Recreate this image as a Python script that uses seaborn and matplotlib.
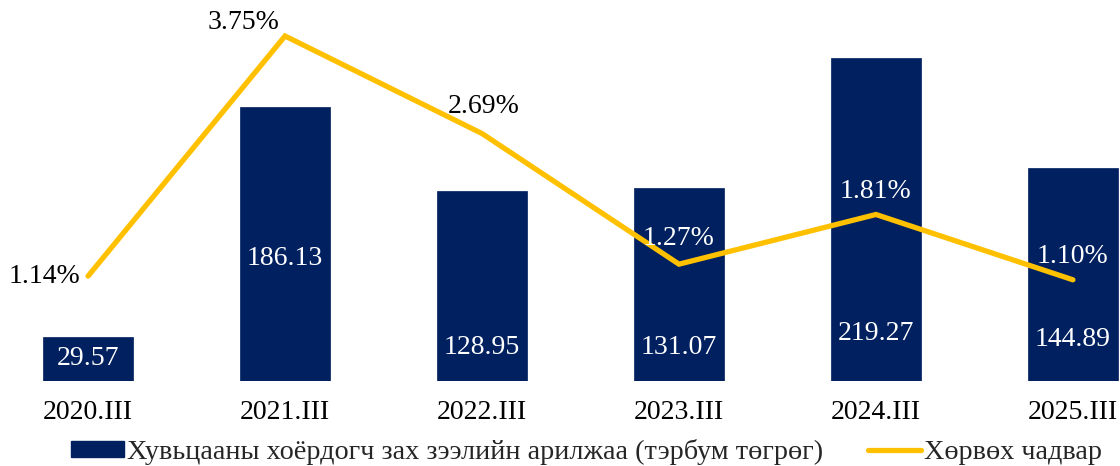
import numpy as np
import pandas as pd
import matplotlib
matplotlib.use("Agg")
import matplotlib.pyplot as plt
import seaborn as sns
from matplotlib.patches import Patch
from matplotlib.lines import Line2D

categories = ["2020.III", "2021.III", "2022.III", "2023.III", "2024.III", "2025.III"]
trade_values = [29.57, 186.13, 128.95, 131.07, 219.27, 144.89]
liquidity_pct = [1.14, 3.75, 2.69, 1.27, 1.81, 1.10]
bar_label_y = [15.6, 83.5, 23.0, 23.0, 32.6, 28.5]
bar_series_name = "Хувьцааны хоёрдогч зах зээлийн арилжаа (тэрбум төгрөг)"
line_series_name = "Хөрвөх чадвар"

NAVY = "#002060"
GOLD = "#FFC000"

sns.set_theme(style="white")
plt.rcParams["font.family"] = ["Liberation Serif", "DejaVu Serif"]

df = pd.DataFrame({"cat": categories, "val": trade_values, "pct": liquidity_pct,
                   "pos": np.arange(len(categories))})

fig = plt.figure(figsize=(11.2, 4.66), dpi=100)
ax = fig.add_axes([0.0, 0.1824, 1.0, 0.7897])

sns.barplot(data=df, x="cat", y="val", color=NAVY, saturation=1, width=0.457,
            ax=ax, edgecolor=NAVY, linewidth=0.5)
ax.set_ylim(0, 250)
ax.set_xlim(-0.447, 5.239)
ax.set_xlabel("")
ax.set_ylabel("")
ax.set_yticks([])
ax.tick_params(axis="x", length=0, pad=14, labelsize=20, labelcolor="black")
for s in ax.spines.values():
    s.set_visible(False)

for i, (v, ly) in enumerate(zip(trade_values, bar_label_y)):
    ax.text(i, ly, f"{v:.2f}", color="white", fontsize=20, ha="center", va="center")

ax2 = ax.twinx()
sns.lineplot(data=df, x="pos", y="pct", color=GOLD, linewidth=3.8, ax=ax2,
             solid_capstyle="round", solid_joinstyle="miter")
ax2.set_ylim(0, 4)
ax2.set_xlim(-0.447, 5.239)
ax2.set_yticks([])
ax2.set_xlabel("")
ax2.set_ylabel("")
for s in ax2.spines.values():
    s.set_visible(False)

# line labels: (dx in category units, dy in pct units, colour)
label_cfg = [(-0.22, 0.0, "black"),
             (-0.21, 0.15, "black"),
             (0.01, 0.29, "black"),
             (0.0, 0.28, "white"),
             (0.0, 0.25, "white"),
             (0.0, 0.25, "white")]
for i, (p, (dx, dy, c)) in enumerate(zip(liquidity_pct, label_cfg)):
    ax2.text(i + dx, p + dy, f"{p:.2f}%", color=c, fontsize=20, ha="center", va="center")

handles = [Patch(facecolor=NAVY, edgecolor=NAVY),
           Line2D([0], [0], color=GOLD, linewidth=3.8, solid_capstyle="round")]
fig.legend(handles, [bar_series_name, line_series_name], loc="center",
           bbox_to_anchor=(0.5237, 0.03), ncol=2, frameon=False, fontsize=20.3,
           handlelength=1.87, handletextpad=0.12, columnspacing=1.6,
           handleheight=0.47, borderpad=0, borderaxespad=0)

fig.savefig("out.png", dpi=100)
